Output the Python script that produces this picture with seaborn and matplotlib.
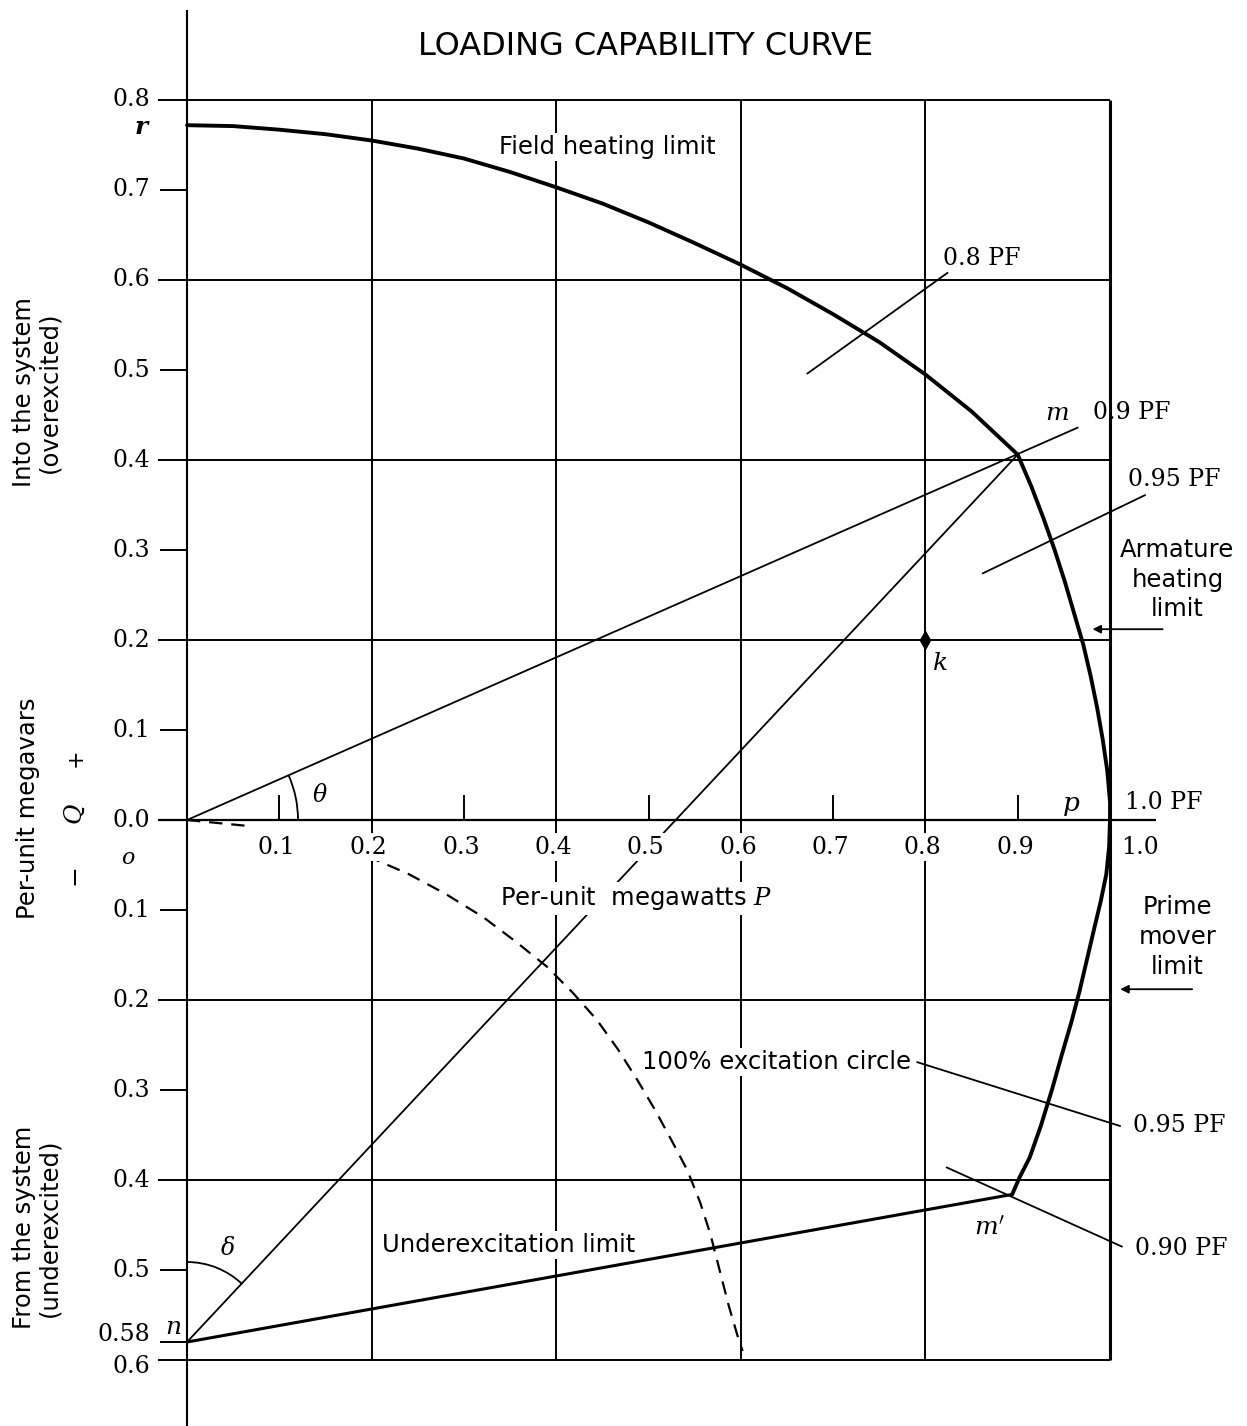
import matplotlib
matplotlib.use("Agg")
import matplotlib.pyplot as plt
import seaborn as sns
from matplotlib.patches import Arc

sns.set_theme(style="white")
plt.rcParams['font.family'] = ['DejaVu Sans']
plt.rcParams['mathtext.fontset'] = 'dejavuserif'
plt.rcParams['text.color'] = 'black'

# values (P = per-unit MW, Q = per-unit Mvar)
field_p = [0.0, 0.05, 0.1, 0.15, 0.2, 0.25, 0.3, 0.35, 0.4, 0.45, 0.5, 0.55, 0.6,
           0.65, 0.7, 0.75, 0.8, 0.85, 0.9]
field_q = [0.772, 0.771, 0.767, 0.762, 0.755, 0.746, 0.735, 0.72, 0.703, 0.685, 0.664,
           0.641, 0.617, 0.591, 0.562, 0.531, 0.495, 0.454, 0.406]

arm_p = [0.9, 0.915, 0.928, 0.94, 0.951, 0.961, 0.971, 0.979, 0.986, 0.992, 0.997, 1.0, 1.0]
arm_q = [0.406, 0.37, 0.335, 0.3, 0.265, 0.23, 0.195, 0.16, 0.125, 0.09, 0.055, 0.02, 0.0]

low_p = [1.0, 0.999, 0.996, 0.99, 0.983, 0.975, 0.967, 0.958, 0.948, 0.937, 0.925, 0.913, 0.902, 0.894]
low_q = [0.0, -0.03, -0.06, -0.09, -0.12, -0.155, -0.19, -0.225, -0.26, -0.3, -0.34, -0.375, -0.397, -0.416]

under_p = [0.0, 0.894]
under_q = [-0.58, -0.416]

exc_p = [0.195, 0.24, 0.28, 0.321, 0.356, 0.39, 0.418, 0.444, 0.467, 0.488, 0.507,
         0.525, 0.542, 0.556, 0.567, 0.577, 0.587, 0.597, 0.602]
exc_q = [-0.04, -0.06, -0.082, -0.108, -0.135, -0.163, -0.192, -0.222, -0.255, -0.289,
         -0.322, -0.356, -0.389, -0.425, -0.46, -0.5, -0.54, -0.575, -0.59]
exc_start_p = [0.0, 0.07]
exc_start_q = [0.0, -0.007]

pf09_p = [0.0, 0.965]
pf09_q = [0.0, 0.436]
delta_p = [0.0, 0.9]
delta_q = [-0.58, 0.406]

# leader lines (start, end)
lead_08 = ([0.672, 0.824], [0.496, 0.608])
lead_095_up = ([0.862, 1.038], [0.274, 0.361])
lead_095_low = ([0.791, 1.011], [-0.269, -0.34])
lead_090_low = ([0.823, 1.013], [-0.386, -0.474])

p_ticks = [0.1, 0.2, 0.3, 0.4, 0.5, 0.6, 0.7, 0.8, 0.9, 1.0]
p_labels = ['0.1', '0.2', '0.3', '0.4', '0.5', '0.6', '0.7', '0.8', '0.9', '1.0']
q_ticks = [0.8, 0.7, 0.6, 0.5, 0.4, 0.3, 0.2, 0.1, 0.0, -0.1, -0.2, -0.3, -0.4, -0.5, -0.58, -0.6]
q_labels = ['0.8', '0.7', '0.6', '0.5', '0.4', '0.3', '0.2', '0.1', '0.0',
            '0.1', '0.2', '0.3', '0.4', '0.5', '0.58', '0.6']
q_grid = [0.8, 0.6, 0.4, 0.2, -0.2, -0.4, -0.6]
p_grid = [0.2, 0.4, 0.6, 0.8]

fig = plt.figure(figsize=(12.47, 14.26), dpi=100)
ax = fig.add_axes([0, 0, 1, 1])
ax.set_xlim(-0.2026, 1.1484)
ax.set_ylim(-0.6733, 0.9111)
ax.axis('off')

K = 'black'
lw_grid = 1.4

# grid
ax.hlines(q_grid, -0.031, 1.0, color=K, lw=lw_grid)
ax.vlines(p_grid, -0.6, 0.8, color=K, lw=lw_grid)
ax.hlines([q for q in q_ticks if q not in q_grid and q != 0.0], -0.029, 0.0, color=K, lw=lw_grid)
ax.hlines(0.0, -0.031, 1.05, color=K, lw=1.6)
ax.vlines(0.0, -0.6733, 0.90, color=K, lw=1.5)
ax.vlines(1.0, -0.6, 0.8, color=K, lw=2.2)
ax.vlines([0.1, 0.3, 0.5, 0.7, 0.9], 0.0, 0.028, color=K, lw=lw_grid)

# curves
def curve(px, qy, lw, **kw):
    sns.lineplot(x=px, y=qy, sort=False, estimator=None, color=K, lw=lw, ax=ax, **kw)

curve(field_p, field_q, 2.8)
curve(arm_p, arm_q, 2.8)
curve(low_p, low_q, 2.8)
curve(under_p, under_q, 2.2)
curve(exc_p, exc_q, 1.6, linestyle=(0, (6, 4)))
curve(exc_start_p, exc_start_q, 1.6, linestyle=(0, (6, 4)))
curve(pf09_p, pf09_q, 1.3)
curve(delta_p, delta_q, 1.3)
for lp, lq in (lead_08, lead_095_up, lead_095_low, lead_090_low):
    curve(lp, lq, 1.3)

# angle arcs
ax.add_patch(Arc((0, 0), 0.2405, 0.2467, theta1=0, theta2=24, color=K, lw=1.3))
ax.add_patch(Arc((0, -0.58), 0.1733, 0.1778, theta1=47, theta2=90, color=K, lw=1.3))

# k marker
ax.plot([0.8], [0.2], marker='d', ms=9, color=K)

# arrows
ax.annotate('', xy=(0.978, 0.212), xytext=(1.06, 0.212),
            arrowprops=dict(arrowstyle='-|>', color=K, lw=1.3, mutation_scale=12))
ax.annotate('', xy=(1.008, -0.188), xytext=(1.092, -0.188),
            arrowprops=dict(arrowstyle='-|>', color=K, lw=1.3, mutation_scale=12))

white = dict(fc='white', ec='none', pad=1.5)
serif = 'DejaVu Serif'

# tick labels
for v, t in zip(p_ticks, p_labels):
    xv = 1.033 if t == '1.0' else v - 0.003
    ax.text(xv, -0.03, t, ha='center', va='center', fontsize=17, family=serif, bbox=white)
for v, t in zip(q_ticks, q_labels):
    yv = v
    if t == '0.58':
        yv = -0.572
    elif v == -0.6:
        yv = -0.607
    ax.text(-0.04, yv, t, ha='right', va='center', fontsize=17, family=serif)

# title and text labels
ax.text(0.497, 0.859, 'LOADING CAPABILITY CURVE', ha='center', va='center', fontsize=23)
ax.text(0.455, 0.748, 'Field heating limit', ha='center', va='center', fontsize=17.5, bbox=white)
ax.text(0.819, 0.624, '0.8 PF', ha='left', va='center', fontsize=17, family=serif)
ax.text(0.943, 0.452, '$m$', ha='center', va='center', fontsize=18)
ax.text(0.982, 0.453, '0.9 PF', ha='left', va='center', fontsize=17, family=serif)
ax.text(1.02, 0.378, '0.95 PF', ha='left', va='center', fontsize=17, family=serif)
ax.text(1.073, 0.267, 'Armature\nheating\nlimit', ha='center', va='center',
        fontsize=17.5, linespacing=1.3)
ax.text(0.816, 0.174, '$k$', ha='center', va='center', fontsize=18)
ax.text(0.144, 0.028, r'$\theta$', ha='center', va='center', fontsize=17)
ax.text(0.958, 0.017, '$p$', ha='center', va='center', fontsize=19)
ax.text(1.016, 0.02, '1.0 PF', ha='left', va='center', fontsize=17, family=serif)
ax.text(-0.064, -0.042, '$o$', ha='center', va='center', fontsize=16)
ax.text(0.486, -0.087, 'Per-unit  megawatts $P$', ha='center', va='center', fontsize=17.5, bbox=white)
ax.text(1.073, -0.13, 'Prime\nmover\nlimit', ha='center', va='center', fontsize=17.5, linespacing=1.3)
ax.text(0.639, -0.269, '100% excitation circle', ha='center', va='center', fontsize=17.5, bbox=white)
ax.text(1.025, -0.339, '0.95 PF', ha='left', va='center', fontsize=17, family=serif)
ax.text(0.87, -0.453, "$m'$", ha='center', va='center', fontsize=18)
ax.text(0.044, -0.476, r'$\delta$', ha='center', va='center', fontsize=17)
ax.text(0.348, -0.472, 'Underexcitation limit', ha='center', va='center', fontsize=17.5, bbox=white)
ax.text(1.027, -0.476, '0.90 PF', ha='left', va='center', fontsize=17, family=serif)
ax.text(-0.015, -0.563, '$n$', ha='center', va='center', fontsize=18)
ax.text(-0.05, 0.77, 'r', ha='center', va='center',
        fontsize=18, family=serif, style='italic', weight='bold')

# axis titles (rotated)
ax.text(-0.163, 0.475, 'Into the system\n(overexcited)', ha='center', va='center',
        rotation=90, fontsize=17.5, linespacing=1.05)
ax.text(-0.172, 0.013, 'Per-unit megavars', ha='center', va='center', rotation=90, fontsize=17.5)
ax.text(-0.121, 0.069, '+', ha='center', va='center', rotation=90, fontsize=16, family=serif)
ax.text(-0.121, 0.006, '$Q$', ha='center', va='center', rotation=90, fontsize=18)
ax.text(-0.121, -0.061, '\u2212', ha='center', va='center', rotation=90, fontsize=18, family=serif)
ax.text(-0.163, -0.453, 'From the system\n(underexcited)', ha='center', va='center',
        rotation=90, fontsize=17.5, linespacing=1.05)

fig.savefig('out.png', dpi=100)
